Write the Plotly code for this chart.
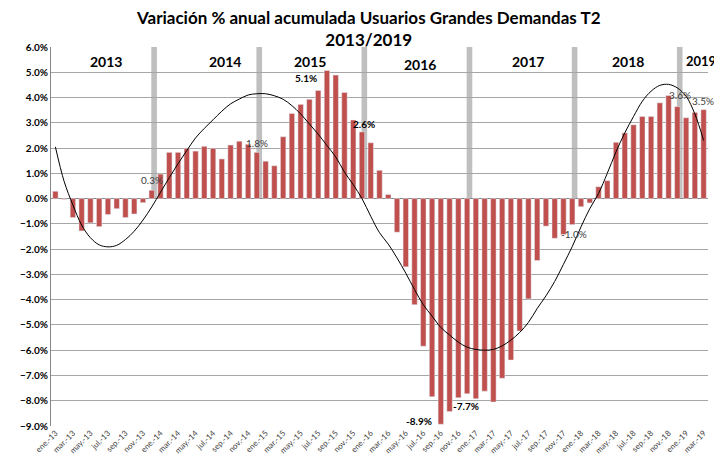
import plotly.graph_objects as go

# monthly labels ene-13 .. mar-19
MONTHS = ['ene.', 'feb.', 'mar.', 'abr.', 'may.', 'jun.',
          'jul.', 'ago.', 'sep.', 'oct.', 'nov.', 'dic.']
years = ['13', '14', '15', '16', '17', '18', '19']
months = [m + '-' + y for y in years for m in MONTHS][:75]

# % variation
values = [
    0.29, -0.03, -0.75, -1.28, -0.96, -1.11, -0.63, -0.40, -0.75, -0.61, -0.16, 0.33,   # 2013
    0.97, 1.83, 1.83, 1.99, 1.88, 2.07, 1.99, 1.57, 2.12, 2.27, 2.15, 1.83,           # 2014
    1.48, 1.30, 2.45, 3.37, 3.73, 3.93, 4.28, 5.07, 4.89, 4.20, 3.11, 2.64,           # 2015
    2.21, 1.12, 0.16, -1.33, -2.70, -4.20, -5.84, -7.84, -8.93, -8.43, -7.88, -7.72,  # 2016
    -7.92, -7.62, -8.05, -7.11, -6.39, -5.24, -3.97, -2.45, -1.09, -1.57, -1.42, -1.03,  # 2017
    -0.32, -0.17, 0.47, 0.71, 2.23, 2.60, 2.92, 3.25, 3.25, 3.79, 4.08, 3.64,        # 2018
    3.20, 3.41, 3.52,                                                                 # 2019
]

# polynomial trend line, values for every month
trend = [
    2.05, 0.68, -0.25, -1.05, -1.55, -1.83, -1.91, -1.85, -1.62, -1.29, -0.85, -0.33,
    0.25, 0.83, 1.38, 1.90, 2.40, 2.78, 3.12, 3.46, 3.75, 3.94, 4.10, 4.15,
    4.15, 4.07, 3.93, 3.68, 3.35, 2.95, 2.55, 2.10, 1.65, 1.05, 0.55, 0.00,
    -0.70, -1.35, -1.80, -2.35, -2.95, -3.60, -4.20, -4.65, -5.10, -5.40, -5.68, -5.88,
    -5.97, -6.00, -5.97, -5.83, -5.60, -5.30, -4.90, -4.35, -3.85, -3.28, -2.60, -1.90,
    -1.12, -0.40, 0.20, 1.00, 1.85, 2.60, 3.25, 3.85, 4.25, 4.48, 4.52, 4.38,
    4.05, 3.35, 2.30,
]

year_labels = ['2013', '2014', '2015', '2016', '2017', '2018', '2019']
year_pos = [(0.0843, 0.962), (0.265, 0.962), (0.3935, 0.962), (0.562, 0.955),
            (0.7267, 0.961), (0.878, 0.962), (0.989, 0.962)]

# labelled points: (month, bold, xshift, yshift)
point_labels = [
    ('dic.-13', False, 0, 10),
    ('dic.-14', False, 0, 9),
    ('ago.-15', True, -21, -7),
    ('dic.-15', True, 2, 8),
    ('sep.-16', True, -22, 3),
    ('dic.-16', True, -1, -12),
    ('dic.-17', False, 2, -9),
    ('dic.-18', False, 3, 12),
    ('mar.-19', False, -1, 9),
]

fig = go.Figure()

fig.add_trace(go.Bar(
    x=months, y=values, marker_color='#C0504D', width=0.62,
    showlegend=False, hoverinfo='x+y'
))

fig.add_trace(go.Scatter(
    x=months, y=trend, mode='lines', line=dict(color='black', width=1, shape='spline'),
    showlegend=False, hoverinfo='skip'
))

# gray year separators (just after each december)
for i, m in enumerate(months):
    if m.startswith('dic.'):
        fig.add_shape(type='rect', xref='x', yref='y',
                      x0=i + 0.27 - 0.32, x1=i + 0.27 + 0.32, y0=0, y1=6,
                      fillcolor='#BFBFBF', line_width=0, layer='below')

for txt, (px, py) in zip(year_labels, year_pos):
    fig.add_annotation(x=px, y=py, xref='paper', yref='paper', text=txt,
                       showarrow=False, xanchor='center', yanchor='middle',
                       font=dict(family='Lato', size=14 if txt != '2019' else 13,
                                 color='black', weight='bold'))

for m, bold, dx, dy in point_labels:
    v = values[months.index(m)]
    fig.add_annotation(x=m, y=v, text='%.1f%%' % v, showarrow=False,
                       xshift=dx, yshift=dy, xanchor='center', yanchor='middle',
                       font=dict(family='Lato', size=10,
                                 color='black' if bold else '#404040',
                                 weight='bold' if bold else 'normal'))

# title as an annotation (two lines)
fig.add_annotation(
    x=0.484, y=1.05, xref='paper', yref='paper', showarrow=False,
    xanchor='center', yanchor='middle', align='center',
    text='Variación % anual acumulada Usuarios Grandes Demandas T2<br>2013/2019',
    font=dict(family='Lato', size=17, color='black', weight='bold'),
)

# the page body adds an 8px offset, so the figure is 8px smaller than the window
fig.update_layout(
    width=714, height=459,
    margin=dict(l=36, r=14, t=39, b=40),
    paper_bgcolor='white', plot_bgcolor='white',
    bargap=0.38,
    xaxis=dict(
        type='category', tickmode='array', tickvals=months[::2], ticktext=months[::2],
        tickangle=-45, tickfont=dict(family='Lato', size=8, color='#404040'),
        showgrid=False, showline=False, ticks='', range=[-0.5, len(months) - 0.5],
    ),
    yaxis=dict(
        range=[-9, 6], dtick=1, tickformat='.1f', ticksuffix='%',
        tickfont=dict(family='Lato', size=10, color='black', weight='bold'),
        showgrid=True, gridcolor='#A6A6A6', gridwidth=1,
        zeroline=True, zerolinecolor='#868686', zerolinewidth=1,
        showline=True, linecolor='#868686', linewidth=1, ticks='',
    ),
)

fig.write_html('out.html')
